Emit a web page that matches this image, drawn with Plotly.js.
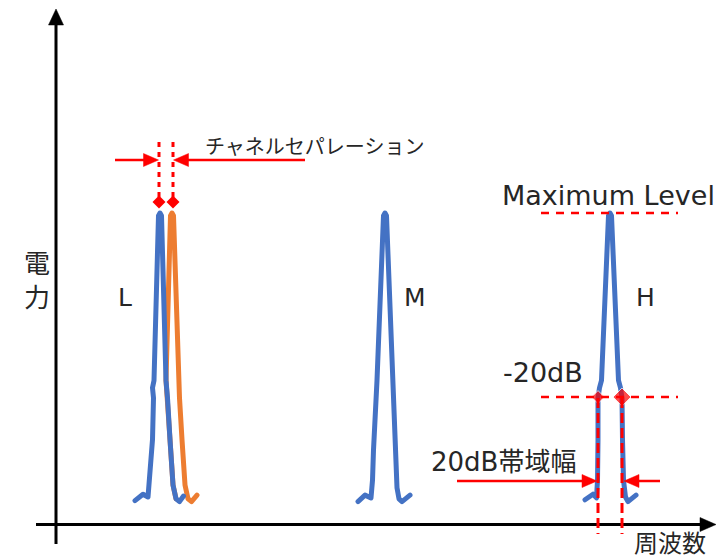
<!DOCTYPE html>
<html><head><meta charset="utf-8">
<script src="https://cdn.plot.ly/plotly-3.0.1.min.js"></script>
<style>
html,body{margin:0;padding:0;background:#fff}
.js-line{stroke-linejoin:round !important;stroke-linecap:round !important;}
</style>
</head><body><div id="chart" style="width:723px;height:560px"></div>
<script>
// ---- data (frequency in arbitrary units, power in dB relative to maximum level) ----
const peakLabels = ['L', 'M', 'H'];
const xAxisTitle = '周波数';
const yAxisTitle = '電力';
const sepText = 'チャネルセパレーション';
const maxText = 'Maximum Level';
const minus20Text = '-20dB';
const bwText = '20dB帯域幅';

const blueLFreq  = [78, 86, 91, 93, 95.5, 96.5, 95.5, 97, 101.5, 103, 104.5, 109, 110, 110.5, 113, 116, 119, 122.5, 126.5];
const blueLPower = [-31.1, -30.4, -30.7, -28.1, -24.5, -20.0, -18.9, -18.1, -0.3, 0, -0.3, -18.1, -18.9, -20.0, -24.5, -29.4, -30.9, -31.2, -30.6];

const orangeLFreq  = [119, 116, 113, 110.5, 110, 109, 113.5, 115, 116.5, 121, 122, 122.5, 125, 128, 131, 134.5, 140];
const orangeLPower = [-30.9, -29.4, -24.5, -20.0, -18.9, -18.1, -0.3, 0, -0.3, -18.1, -18.9, -20.0, -24.5, -29.4, -30.9, -31.2, -30.5];

const blueMFreq  = [301, 308, 314, 315.5, 316.5, 319, 318.5, 320, 326.5, 328, 329.5, 335.5, 336.5, 337, 338, 340, 342, 345, 353];
const blueMPower = [-31.2, -30.5, -30.8, -28.9, -25.6, -20.0, -18.9, -18.1, -0.3, 0, -0.3, -18.1, -18.9, -20.0, -25.6, -29.7, -30.9, -31.2, -30.5];

const blueHFreq  = [528, 536, 539.5, 540.5, 541, 541, 542.5, 544.5, 551.5, 553, 554.5, 561.5, 563.5, 565, 565.5, 566.5, 568.5, 571, 579];
const blueHPower = [-31.0, -30.4, -30.8, -28.9, -24.5, -20.0, -18.9, -18.1, -0.3, 0, -0.3, -18.1, -18.9, -20.0, -24.5, -28.9, -30.7, -31.2, -30.5];

const maxLevelDb = 0;
const bwLevelDb = -20;

// ---- pixel <-> data helpers (layout only) ----
const X0 = 57, DBPX = 9.25, Y0 = 213;
const px2x = p => p - X0;
const py2y = p => (Y0 - p) / DBPX;
const x2px = x => x + X0;
const y2py = y => Y0 - y * DBPX;

const BLUE = '#4472C4', ORANGE = '#ED7D31', RED = '#FF0000', TXT = '#262626';
const LATIN = 'DejaVu Sans, Noto Sans CJK JP, sans-serif';
const CJK = 'Noto Sans CJK JP, DejaVu Sans, sans-serif';

function peakX(fr, pw) { let i = pw.indexOf(Math.max(...pw)); return fr[i]; }
function crossX(fr, pw, lvl) { const r = []; pw.forEach((v, i) => { if (v === lvl) r.push(fr[i]); }); return r; }

const pL = peakX(blueLFreq, blueLPower);
const pO = peakX(orangeLFreq, orangeLPower);
const hCross = crossX(blueHFreq, blueHPower, bwLevelDb);

function pathPx(pts) {
  return 'M ' + pts.map(p => px2x(p[0]) + ',' + py2y(p[1])).join(' L ') + ' Z';
}
function lineShape(x0p, y0p, x1p, y1p, color, width, dash) {
  return {type: 'line', xref: 'x', yref: 'y', x0: px2x(x0p), y0: py2y(y0p), x1: px2x(x1p), y1: py2y(y1p),
    line: {color: color, width: width, dash: dash || 'solid'}, layer: 'above'};
}
function triShape(pts, color) {
  return {type: 'path', xref: 'x', yref: 'y', path: pathPx(pts), fillcolor: color, line: {color: color, width: 0.5}, layer: 'above'};
}

const shapes = [];
// axes
shapes.push(lineShape(56, 544, 56, 24, '#000', 3));
shapes.push(triShape([[56, 9], [48.5, 25], [63.5, 25]], '#000'));
shapes.push(lineShape(36, 524.5, 701, 524.5, '#000', 3));
shapes.push(triShape([[716, 524.5], [700, 517.5], [700, 531.5]], '#000'));

// channel separation
const lTip = x2px(pL) - 1.5, oTip = x2px(pO) + 1.5;
shapes.push(lineShape(x2px(pL) - 1, 142, x2px(pL) - 1, 198, RED, 3, '5px,5px'));
shapes.push(lineShape(x2px(pO) + 1, 142, x2px(pO) + 1, 198, RED, 3, '5px,5px'));
shapes.push(lineShape(115, 160, lTip - 13, 160, RED, 2.5));
shapes.push(triShape([[lTip, 160], [lTip - 15, 153.5], [lTip - 15, 166.5]], RED));
shapes.push(lineShape(305, 160, oTip + 13, 160, RED, 2.5));
shapes.push(triShape([[oTip, 160], [oTip + 15, 153.5], [oTip + 15, 166.5]], RED));

// max level & -20 dB lines
shapes.push(lineShape(541, y2py(maxLevelDb), 678, y2py(maxLevelDb), RED, 2.5, '8px,7px'));
shapes.push(lineShape(541, y2py(bwLevelDb) - 1, 678, y2py(bwLevelDb) - 1, RED, 2.5, '8px,7px'));
hCross.forEach(c => shapes.push(lineShape(x2px(c), y2py(bwLevelDb), x2px(c), 534, RED, 3, '10px,5px')));

// bandwidth arrows
const bL = x2px(hCross[0]) - 1, bR = x2px(hCross[1]) + 2;
shapes.push(lineShape(457, 481, bL - 13, 481, RED, 2.5));
shapes.push(triShape([[bL, 481], [bL - 15, 474.5], [bL - 15, 487.5]], RED));
shapes.push(lineShape(660, 481, bR + 13, 481, RED, 2.5));
shapes.push(triShape([[bR, 481], [bR + 15, 474.5], [bR + 15, 487.5]], RED));

const lineStyle = c => ({color: c, width: 5});
const traces = [
  {x: orangeLFreq, y: orangeLPower, mode: 'lines', line: lineStyle(ORANGE), hoverinfo: 'skip'},
  {x: blueLFreq, y: blueLPower, mode: 'lines', line: lineStyle(BLUE), hoverinfo: 'skip'},
  {x: blueMFreq, y: blueMPower, mode: 'lines', line: lineStyle(BLUE), hoverinfo: 'skip'},
  {x: blueHFreq, y: blueHPower, mode: 'lines', line: lineStyle(BLUE), hoverinfo: 'skip'},
  // marker diamonds
  {x: [pL - 1, pO + 1], y: [py2y(202), py2y(202)], mode: 'markers', marker: {symbol: 'diamond', size: 10, color: RED}, hoverinfo: 'skip'},
  {x: hCross, y: [bwLevelDb + 0.1, bwLevelDb + 0.1], mode: 'markers', marker: {symbol: 'diamond', size: [10, 14], color: RED}, hoverinfo: 'skip'}
];

function txt(text, xp, yp, size, family, xanchor) {
  return {text: text, x: px2x(xp), y: py2y(yp), xref: 'x', yref: 'y', showarrow: false,
    xanchor: xanchor || 'center', yanchor: 'middle', font: {size: size, family: family, color: TXT}};
}
const peakLabelPos = [[125, 297], [415, 297], [645, 297]];
const annotations = [
  txt(sepText, 203, 145, 20, CJK, 'left'),
  txt(maxText, 500, 195, 27, LATIN, 'left'),
  txt(minus20Text, 501, 372, 27, LATIN, 'left'),
  txt(bwText, 429, 462, 26, LATIN, 'left'),
  txt(yAxisTitle.split('').join('<br>'), 37, 278, 26, CJK),
  txt(xAxisTitle, 670, 541, 24, CJK)
];
peakLabels.forEach((l, i) => annotations.push(txt(l, peakLabelPos[i][0], peakLabelPos[i][1], 25, LATIN)));

const layout = {
  width: 723, height: 560,
  margin: {l: 0, r: 0, t: 0, b: 0, pad: 0},
  paper_bgcolor: '#fff', plot_bgcolor: '#fff',
  showlegend: false,
  xaxis: {range: [px2x(0), px2x(723)], visible: false, fixedrange: true},
  yaxis: {range: [py2y(560), py2y(0)], visible: false, fixedrange: true},
  shapes: shapes,
  annotations: annotations
};
Plotly.newPlot('chart', traces, layout, {staticPlot: true, displayModeBar: false});
</script>
</body></html>
